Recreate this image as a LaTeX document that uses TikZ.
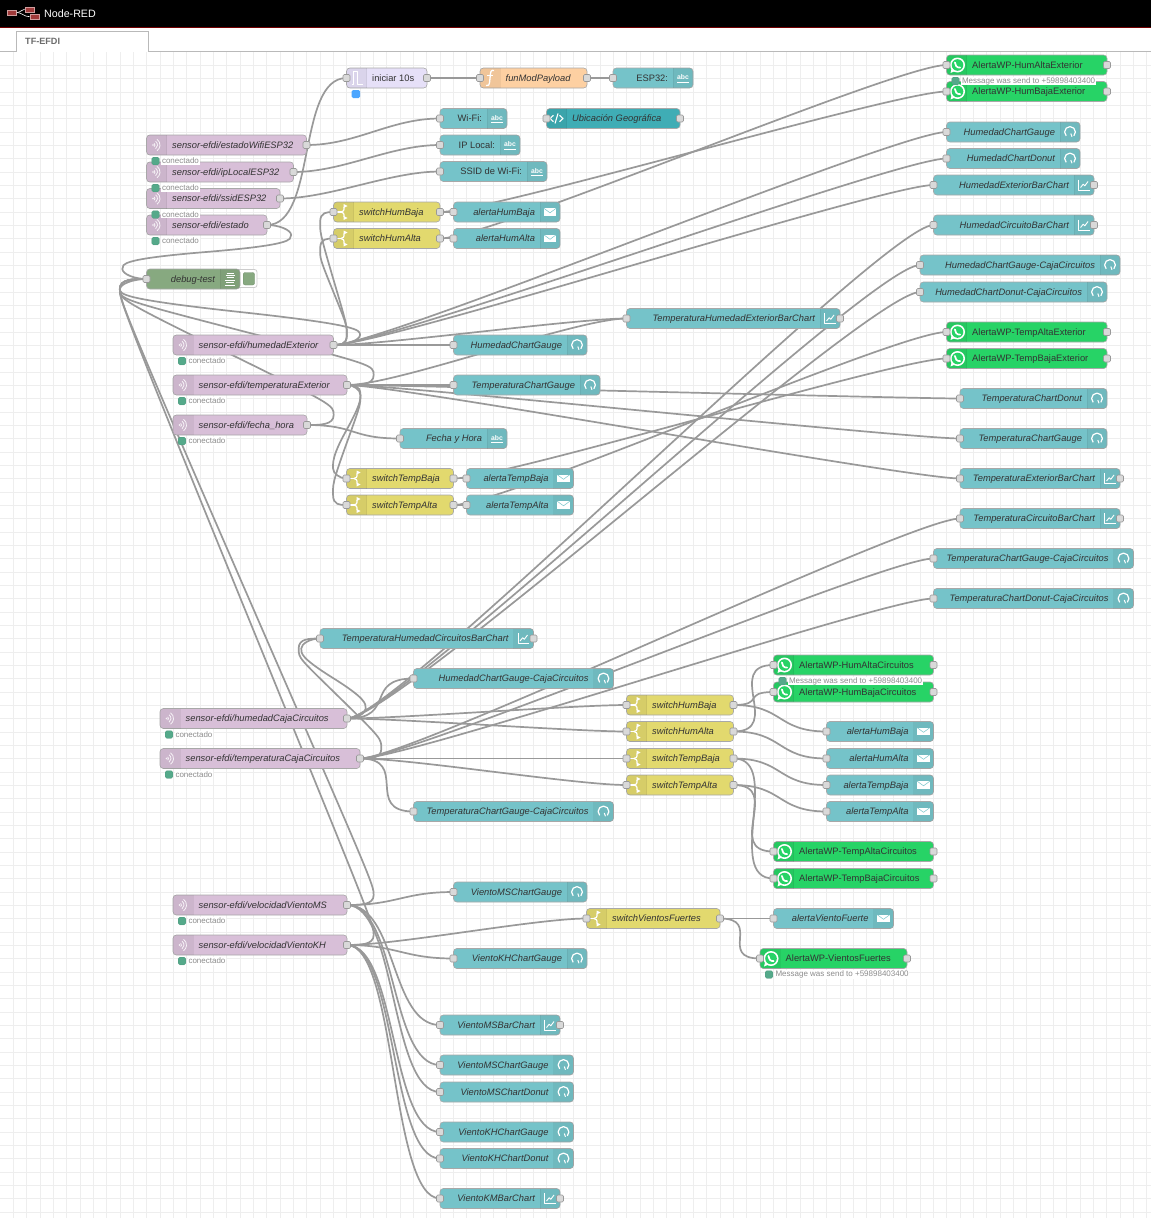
\documentclass[tikz,border=0pt]{standalone}
\usepackage{fontspec}
\setmainfont{Liberation Sans}
\usetikzlibrary{calc}
\definecolor{cteal}{HTML}{75C3C9}
\definecolor{ctealtext}{HTML}{333333}
\definecolor{clav}{HTML}{E6E0F8}
\definecolor{cfun}{HTML}{FDD0A2}
\definecolor{csens}{HTML}{D8BFD8}
\definecolor{cswi}{HTML}{E2D96E}
\definecolor{cdbg}{HTML}{87A980}
\definecolor{ctpl}{HTML}{3FADB5}
\definecolor{cwa}{HTML}{27D366}
\definecolor{cwire}{HTML}{999999}
\definecolor{cborder}{HTML}{A8A8A8}
\definecolor{cport}{HTML}{D9D9D9}
\definecolor{cgrid}{HTML}{EEEEEE}
\definecolor{cstat}{HTML}{55A98A}
\definecolor{clogo}{HTML}{A03B3B}
\newcommand\nf{\fontsize{9.33}{11}\selectfont}
\pgfdeclarelayer{grid}\pgfdeclarelayer{wires}\pgfdeclarelayer{top}
\pgfsetlayers{grid,wires,main,top}
\tikzset{
 fnode/.style={draw=cborder,line width=.6pt,rounded corners=3.3pt,inner xsep=25pt,inner ysep=0pt,outer sep=0pt,
   minimum height=20pt,text height=7.8pt,text depth=1pt,text=ctealtext,font=\nf\itshape},
 upr/.style={font=\nf\upshape},
 nteal/.style={fill=cteal},nlav/.style={fill=clav,upr},nfun/.style={fill=cfun},nsens/.style={fill=csens},
 nswi/.style={fill=cswi},ndbg/.style={fill=cdbg},ntpl/.style={fill=ctpl},nwa/.style={fill=cwa,upr},
 port/.style={draw=cwire,fill=cport,line width=.6pt,rounded corners=1.3pt,minimum size=7pt,inner sep=0pt,outer sep=0pt},
 wire/.style={draw=cwire,line width=1.7pt},
 band/.style={fill=black,fill opacity=.05},
 bandline/.style={draw=black,draw opacity=.05,line width=.6pt},
 ic/.style={draw=white,line width=1.1pt,line join=round},
 stdot/.style={fill=cstat,draw=cstat!80!black,draw opacity=.4,line width=.4pt,rounded corners=1.5pt},
 sttxt/.style={fill=white,text=gray!90,inner xsep=.7pt,inner ysep=.6pt,outer sep=0pt,anchor=west,font=\fontsize{8}{9}\selectfont},
 logobox/.style={fill=clogo,draw=clogo!50!white,line width=.4pt,minimum width=9.3pt,minimum height=5pt,inner sep=0pt},
}
% icons, origin at the centre of the icon band
\newcommand\icoenv{\fill[white] (-6.3,-3.8) rectangle (6.3,3.8);\draw[cteal,line width=.5pt] (-6.3,-3.8)--(0,.8)--(6.3,-3.8);}
\newcommand\icogauge{\draw[ic,line width=1.2pt] (135:5.4) arc (135:405:5.4);\draw[ic,line width=1pt] (.8,1.5)--(2,4.8);}
\newcommand\icochart{\draw[ic,line width=.8pt] (-5.5,-5.5)--(-5.5,5.2)--(5.5,5.2);\draw[ic,line width=.9pt] (-3.5,2.5)--(-.8,-.8)--(.8,.8)--(4,-3.5);}
\newcommand\icoabc{\node[white,font=\bfseries\fontsize{6.8}{7}\selectfont,inner sep=0pt] (ic) at (0,-.8) {abc};\draw[ic,line width=.9pt] (-6,4)--(6,4);}
\newcommand\icosw{\draw[ic,line width=1.2pt] (-6.5,0)--(-2.5,0);
 \draw[ic,line width=1.2pt] (-2.5,0) .. controls (0,0) and (.6,-1.5) .. (.6,-5);
 \draw[ic,line width=1.2pt] (-2.5,0) .. controls (0,0) and (.6,1.5) .. (.6,5);
 \fill[white] (.2,-8)--(4,-6)--(.2,-4)--cycle;\fill[white] (.2,8)--(4,6)--(.2,4)--cycle;}
\newcommand\icosens{\fill[white,opacity=.85] (-3.5,0) circle (.9);
 \foreach \r in {2,4.5,7}{\draw[white,line width=.8pt,opacity=.85] ($(-3.5,0)+(-55:\r)$) arc (-55:55:\r);}}
\newcommand\icoinj{\draw[ic] (-5,6.5)--(-3.3,6.5)--(-3.3,-6.5)--(1,-6.5)--(1,6.5)--(6,6.5);}
\newcommand\icofun{\draw[ic,line width=1.3pt] (4,-7.5) .. controls (1,-8.5) and (.7,-6) .. (.3,-3) -- (-.3,3.5) .. controls (-.6,7) and (-2,8.5) .. (-4,7.5);\draw[ic,line width=1.2pt] (-2.7,-2.5)--(3.2,-2.5);}
\newcommand\icodbg{\foreach \yy/\w in {-6/3.5,-3.6/4.5,-1.2/3.5,1.2/5,3.6/4,6/5}{\draw[white,line width=.9pt] (-\w,\yy)--(\w,\yy);}}
\newcommand\icotpl{\draw[ic] (-3,-3.2)--(-6.5,0)--(-3,3.2);\draw[ic] (3,-3.2)--(6.5,0)--(3,3.2);\draw[ic] (1.5,-5)--(-1.5,5);}
\newcommand\icowa{\fill[white] (1,0) circle (7.5);\fill[white] (-6,8)--(-4.6,2.5)--(-1.5,6)--cycle;\fill[cwa] (1,0) circle (5.8);
 \draw[white,line width=1.7pt,line cap=round] (-1.6,-2.6) .. controls (-2,.2) and (.6,3) .. (3.6,2.6);}
% function node: name x1 x2 yc style side icon text ports
\newcommand\fn[9]{%
 \expandafter\gdef\csname xl@#1\endcsname{#2}\expandafter\gdef\csname xr@#1\endcsname{#3}\expandafter\gdef\csname yc@#1\endcsname{#4}%
 \pgfmathsetmacro\Wc{(#2+#3)/2}\pgfmathsetmacro\Ww{#3-#2}\pgfmathsetmacro\Wix{\if#6L#2+10\else#3-10\fi}%
 \pgfmathsetmacro\Wbl{\if#6L#2\else#3-20\fi}\pgfmathsetmacro\Wbr{\Wbl+20}\pgfmathsetmacro\Wdiv{\if#6L\Wbr\else\Wbl\fi}%
 \node[fnode,#5,minimum width=\Ww pt] (#1) at (\Wc,#4) {\hbox to \dimexpr\Ww pt-50pt\relax{\if#6L\kern.7pt#8\hss\else\hss#8\fi}};
 \begin{scope}\clip[rounded corners=3.3pt] (#2,#4-10) rectangle (#3,#4+10);\fill[band] (\Wbl,#4-10) rectangle (\Wbr,#4+10);\end{scope}
 \draw[bandline] (\Wdiv,#4-10)--(\Wdiv,#4+10);
 \begin{scope}[shift={(\Wix,#4)},name prefix=#1-]\csname ico#7\endcsname\end{scope}
 \begin{pgfonlayer}{top}
 \if#9i\node[port] (#1-i) at (#1.west) {};\fi
 \if#9o\node[port] (#1-o) at (#1.east) {};\fi
 \if#9b\node[port] (#1-i) at (#1.west) {};\node[port] (#1-o) at (#1.east) {};\fi
 \end{pgfonlayer}%
}
\newcommand\st[2]{%
 \pgfmathsetmacro\Wsx{\csname xl@#1\endcsname}\pgfmathsetmacro\Wsy{\csname yc@#1\endcsname+16}%
 \begin{pgfonlayer}{top}
 \fill[stdot] (\Wsx+5.2,\Wsy-3.8) rectangle (\Wsx+12.8,\Wsy+3.8);
 \node[sttxt] (#1-st) at (\Wsx+14.8,\Wsy) {#2};
 \end{pgfonlayer}%
}
% Node-RED's link path
\newcommand\wire[2]{%
 \pgfmathsetmacro\WOx{\csname xr@#1\endcsname}\pgfmathsetmacro\WOy{\csname yc@#1\endcsname}%
 \pgfmathsetmacro\WDx{\csname xl@#2\endcsname}\pgfmathsetmacro\WDy{\csname yc@#2\endcsname}%
 \pgfmathsetmacro\wdx{\WDx-\WOx}\pgfmathsetmacro\wdy{\WDy-\WOy}%
 \pgfmathsetmacro\wdel{veclen(\wdx,\wdy)}%
 \ifdim\wdx pt>0pt
  \pgfmathsetmacro\wk{\wdel<66.667 ? \wdel*.75 : 50}%
  \draw[wire] (#1.east) .. controls ([xshift=\wk pt]#1.east) and ([xshift=-\wk pt]#2.west) .. (#2.west);
 \else
  \pgfmathsetmacro\ws{66.667*(0.4-0.2*max(0,(66.667-min(abs(\wdx),abs(\wdy)))/66.667))}%
  \pgfmathsetmacro\wmx{floor(\WDx-\wdx/2)}%
  \pgfmathsetmacro\wmy{floor(\WDy-\wdy/2)}%
  \pgfmathsetmacro\wya{(\WDy+\wmy)/2}%
  \pgfmathsetmacro\wtx{\WOx+\ws}%
  \pgfmathsetmacro\wty{\wdy>0 ? min(\wya-\wdy/2,\WOy+10) : max(\wya-\wdy/2,\WOy-10)}%
  \pgfmathsetmacro\wbx{\WDx-\ws}%
  \pgfmathsetmacro\wby{\wdy>0 ? max(\wya,\WDy-10) : min(\wya,\WDy+10)}%
  \pgfmathsetmacro\wscy{\wdy>0 ? 1 : -1}%
  \pgfmathsetmacro\wca{\wdy>0 ? max(\WOy,\wty-10) : min(\WOy,\wty+10)}%
  \pgfmathsetmacro\wcb{\wdy>0 ? min(\wmy,\wty+10) : max(\wmy,\wty-10)}%
  \pgfmathsetmacro\wcc{\wdy>0 ? max(\wmy,\wby-10) : min(\wmy,\wby+10)}%
  \pgfmathtruncatemacro\wflag{(abs(\wcb-\wty-\wscy*10)<.01) && (abs(\wdy)<100) ? 1 : 0}%
  \ifnum\wflag=1
   \pgfmathsetmacro\wca{\wty-\wscy*5}\pgfmathsetmacro\wcc{\wby-\wscy*5}%
  \fi
  \draw[wire] (#1.east) .. controls ({(\WOx+\wtx)/2},\WOy) and (\wtx,\wca) .. (\wtx,\wty)
   .. controls (\wtx,{2*\wty-\wca}) and (\wtx,\wcb) .. (\wmx,\wmy)
   .. controls ({2*\wmx-\wtx},{2*\wmy-\wcb}) and (\wbx,\wcc) .. (\wbx,\wby)
   .. controls (\wbx,{2*\wby-\wcc}) and ({(\WDx+\wbx)/2},\WDy) .. (#2.west);
 \fi
}
\newcommand\wires[2]{\foreach \t in {#2}{\wire{#1}{\t}}}
\begin{document}
\begin{tikzpicture}[x=1pt,y=-1pt]
\useasboundingbox (0,0) rectangle (1151,1218);
\begin{pgfonlayer}{grid}
\fill[white] (0,0) rectangle (1151,1218);
\foreach \k in {1,...,86}{\draw[cgrid,line width=.8pt] ({\k*13.333},52)--({\k*13.333},1218);}
\foreach \k in {1,...,87}{\draw[cgrid,line width=.8pt] (0,{52+\k*13.333})--(1151,{52+\k*13.333});}
\fill[black] (0,0) rectangle (1151,26.5);
\fill[red!45!black] (0,26.5) rectangle (1151,27.6);
\fill[white] (0,27.6) rectangle (1151,51);
\draw[gray!55,line width=.8pt] (0,51.4)--(16,51.4)--(16,31)--(148.5,31)--(148.5,51.4)--(1151,51.4);
\end{pgfonlayer}
% header
\node[logobox] (logoA) at (12,12.5) {};
\node[logobox] (logoB) at (29.5,9.2) {};
\node[logobox] (logoC) at (34.5,16.7) {};
\draw[white,line width=.6pt] (logoA.east) .. controls +(4,0) and +(-3,0) .. (logoB.west);
\draw[white,line width=.6pt] (logoA.east) .. controls +(5,0) and +(-6,0) .. (logoC.west);
\node[white,anchor=west,inner sep=0pt,font=\fontsize{10.67}{12}\selectfont] (title) at (44,13.3) {Node-RED};
\node[text=gray!85!black,anchor=west,inner sep=0pt,font=\bfseries\fontsize{9.1}{11}\selectfont] (tab) at (25,41) {TF-EFDI};
% top group
\fn{inj}{346.5}{427}{78}{nlav}{L}{inj}{iniciar 10s}{b}
\fn{fun}{480}{587}{78}{nfun}{L}{fun}{funModPayload}{b}
\fn{esp}{613}{693}{78}{nteal,upr}{R}{abc}{ESP32:}{i}
\fn{wifi}{440}{507}{118.5}{nteal,upr}{R}{abc}{Wi-Fi:}{i}
\fn{ipl}{440}{520}{145}{nteal,upr}{R}{abc}{IP Local:}{i}
\fn{ssid}{440}{547}{171.5}{nteal,upr}{R}{abc}{SSID de Wi-Fi:}{i}
\fn{ubi}{546.5}{680}{118.5}{ntpl}{L}{tpl}{Ubicación Geográfica}{b}
\fn{swHBx}{333.5}{440}{212}{nswi}{L}{sw}{switchHumBaja}{b}
\fn{swHAx}{333.5}{440}{238.5}{nswi}{L}{sw}{switchHumAlta}{b}
\fn{alHBx}{453.5}{560}{212}{nteal}{R}{env}{alertaHumBaja}{i}
\fn{alHAx}{453.5}{560}{238.5}{nteal}{R}{env}{alertaHumAlta}{i}
\fn{sWifi}{146.5}{306.5}{145}{nsens}{L}{sens}{sensor-efdi/estadoWifiESP32}{o}
\fn{sIp}{146.5}{293.5}{172}{nsens}{L}{sens}{sensor-efdi/ipLocalESP32}{o}
\fn{sSsid}{146.5}{280}{198.5}{nsens}{L}{sens}{sensor-efdi/ssidESP32}{o}
\fn{sEst}{146.5}{267}{225}{nsens}{L}{sens}{sensor-efdi/estado}{o}
% debug node and its button
\fill[white,draw=gray!40,line width=.8pt,rounded corners=2.5pt] (232,269.5) rectangle (257,287.5);
\fill[cdbg,draw=cdbg!85!black,line width=.4pt,rounded corners=2pt] (243.2,272.5) rectangle (254.5,285);
\fn{dbg}{146.5}{240}{279}{ndbg}{R}{dbg}{debug-test}{i}
\fn{sHumE}{173}{333.5}{345}{nsens}{L}{sens}{sensor-efdi/humedadExterior}{o}
\fn{sTemE}{173}{347}{385}{nsens}{L}{sens}{sensor-efdi/temperaturaExterior}{o}
\fn{sFec}{173}{307}{425}{nsens}{L}{sens}{sensor-efdi/fecha\_hora}{o}
\fn{gHum}{453.5}{587}{345}{nteal}{R}{gauge}{HumedadChartGauge}{i}
\fn{gTem}{453.5}{600}{385}{nteal}{R}{gauge}{TemperaturaChartGauge}{i}
\fn{barTHE}{626.5}{840}{318.5}{nteal}{R}{chart}{TemperaturaHumedadExteriorBarChart}{b}
\fn{fecha}{400}{507}{438.5}{nteal}{R}{abc}{Fecha y Hora}{i}
\fn{swTBx}{346.5}{453.5}{478.5}{nswi}{L}{sw}{switchTempBaja}{b}
\fn{swTAx}{346.5}{453.5}{505}{nswi}{L}{sw}{switchTempAlta}{b}
\fn{alTBx}{466.5}{573.5}{478.5}{nteal}{R}{env}{alertaTempBaja}{i}
\fn{alTAx}{466.5}{573.5}{505}{nteal}{R}{env}{alertaTempAlta}{i}
% right column
\fn{wpHAE}{946.5}{1107}{65}{nwa}{L}{wa}{AlertaWP-HumAltaExterior}{b}
\fn{wpHBE}{946.5}{1107}{91.5}{nwa}{L}{wa}{AlertaWP-HumBajaExterior}{b}
\fn{rGH}{946.5}{1080}{132}{nteal}{R}{gauge}{HumedadChartGauge}{i}
\fn{rDH}{946.5}{1080}{158.5}{nteal}{R}{gauge}{HumedadChartDonut}{i}
\fn{rBHE}{933.5}{1094}{185}{nteal}{R}{chart}{HumedadExteriorBarChart}{b}
\fn{rBHC}{933.5}{1094}{225}{nteal}{R}{chart}{HumedadCircuitoBarChart}{b}
\fn{rGHC}{920}{1120}{265}{nteal}{R}{gauge}{HumedadChartGauge-CajaCircuitos}{i}
\fn{rDHC}{920}{1107}{292}{nteal}{R}{gauge}{HumedadChartDonut-CajaCircuitos}{i}
\fn{wpTAE}{946.5}{1107}{332}{nwa}{L}{wa}{AlertaWP-TempAltaExterior}{b}
\fn{wpTBE}{946.5}{1107}{358.5}{nwa}{L}{wa}{AlertaWP-TempBajaExterior}{b}
\fn{rDT}{960}{1107}{398.5}{nteal}{R}{gauge}{TemperaturaChartDonut}{i}
\fn{rGT}{960}{1107}{438.5}{nteal}{R}{gauge}{TemperaturaChartGauge}{i}
\fn{rBTE}{960}{1120}{478.5}{nteal}{R}{chart}{TemperaturaExteriorBarChart}{b}
\fn{rBTC}{960}{1120}{518.5}{nteal}{R}{chart}{TemperaturaCircuitoBarChart}{b}
\fn{rGTC}{933.5}{1133.5}{558.5}{nteal}{R}{gauge}{TemperaturaChartGauge-CajaCircuitos}{i}
\fn{rDTC}{933.5}{1133.5}{598.5}{nteal}{R}{gauge}{TemperaturaChartDonut-CajaCircuitos}{i}
% circuits group
\fn{barTHC}{320}{533.5}{638.5}{nteal}{R}{chart}{TemperaturaHumedadCircuitosBarChart}{b}
\fn{gHC}{413.5}{613.5}{678.5}{nteal}{R}{gauge}{HumedadChartGauge-CajaCircuitos}{i}
\fn{gTC}{413.5}{613.5}{811.5}{nteal}{R}{gauge}{TemperaturaChartGauge-CajaCircuitos}{i}
\fn{sHumC}{160}{347}{718.5}{nsens}{L}{sens}{sensor-efdi/humedadCajaCircuitos}{o}
\fn{sTemC}{160}{360}{758.5}{nsens}{L}{sens}{sensor-efdi/temperaturaCajaCircuitos}{o}
\fn{swHBc}{626.5}{733.5}{705}{nswi}{L}{sw}{switchHumBaja}{b}
\fn{swHAc}{626.5}{733.5}{731.5}{nswi}{L}{sw}{switchHumAlta}{b}
\fn{swTBc}{626.5}{733.5}{758.5}{nswi}{L}{sw}{switchTempBaja}{b}
\fn{swTAc}{626.5}{733.5}{785}{nswi}{L}{sw}{switchTempAlta}{b}
\fn{wpHAC}{773.5}{933.5}{665}{nwa}{L}{wa}{AlertaWP-HumAltaCircuitos}{b}
\fn{wpHBC}{773.5}{933.5}{692}{nwa}{L}{wa}{AlertaWP-HumBajaCircuitos}{b}
\fn{alHBc}{826.5}{933.5}{731.5}{nteal}{R}{env}{alertaHumBaja}{i}
\fn{alHAc}{826.5}{933.5}{758.5}{nteal}{R}{env}{alertaHumAlta}{i}
\fn{alTBc}{826.5}{933.5}{785}{nteal}{R}{env}{alertaTempBaja}{i}
\fn{alTAc}{826.5}{933.5}{811.5}{nteal}{R}{env}{alertaTempAlta}{i}
\fn{wpTAC}{773.5}{933.5}{851.5}{nwa}{L}{wa}{AlertaWP-TempAltaCircuitos}{b}
\fn{wpTBC}{773.5}{933.5}{878.5}{nwa}{L}{wa}{AlertaWP-TempBajaCircuitos}{b}
% wind group
\fn{swVF}{586.5}{720}{918.5}{nswi}{L}{sw}{switchVientosFuertes}{b}
\fn{alVF}{773.5}{893.5}{918.5}{nteal}{R}{env}{alertaVientoFuerte}{i}
\fn{wpVF}{760}{907}{958.5}{nwa}{L}{wa}{AlertaWP-VientosFuertes}{b}
\fn{sVMS}{173}{347}{905}{nsens}{L}{sens}{sensor-efdi/velocidadVientoMS}{o}
\fn{sVKH}{173}{347}{945}{nsens}{L}{sens}{sensor-efdi/velocidadVientoKH}{o}
\fn{gVMS}{453.5}{587}{892}{nteal}{R}{gauge}{VientoMSChartGauge}{i}
\fn{gVKH}{453.5}{587}{958.5}{nteal}{R}{gauge}{VientoKHChartGauge}{i}
\fn{bVMS}{440}{560}{1025}{nteal}{R}{chart}{VientoMSBarChart}{b}
\fn{gVMSb}{440}{573.5}{1065}{nteal}{R}{gauge}{VientoMSChartGauge}{i}
\fn{dVMS}{440}{573.5}{1092}{nteal}{R}{gauge}{VientoMSChartDonut}{i}
\fn{gVKHb}{440}{573.5}{1132}{nteal}{R}{gauge}{VientoKHChartGauge}{i}
\fn{dVKH}{440}{573.5}{1158.5}{nteal}{R}{gauge}{VientoKHChartDonut}{i}
\fn{bVKM}{440}{560}{1198.5}{nteal}{R}{chart}{VientoKMBarChart}{b}
% status
\st{sWifi}{conectado}\st{sIp}{conectado}\st{sSsid}{conectado}\st{sEst}{conectado}
\st{sHumE}{conectado}\st{sTemE}{conectado}\st{sFec}{conectado}
\st{sHumC}{conectado}\st{sTemC}{conectado}\st{sVMS}{conectado}\st{sVKH}{conectado}
\st{wpHAE}{Message was send to +59898403400}
\st{wpHAC}{Message was send to +59898403400}
\st{wpVF}{Message was send to +59898403400}
\begin{pgfonlayer}{top}
\fill[fill=blue!50!cyan!70!white,rounded corners=1.5pt] (351.7,90) rectangle (360,98.2);
\end{pgfonlayer}
% wires
\begin{pgfonlayer}{wires}
\wire{sWifi}{wifi}\wire{sIp}{ipl}\wire{sSsid}{ssid}
\wires{sEst}{inj,dbg}
\wire{inj}{fun}\wire{fun}{esp}
\wires{swHBx}{alHBx,wpHBE}\wires{swHAx}{alHAx,wpHAE}
\wires{sHumE}{swHBx,swHAx,gHum,barTHE,rGH,rDH,rBHE,dbg}
\wires{sTemE}{gTem,barTHE,swTBx,swTAx,rDT,rGT,rBTE,dbg}
\wires{sFec}{fecha,dbg}
\wires{swTBx}{alTBx,wpTBE}\wires{swTAx}{alTAx,wpTAE}
\wires{sHumC}{barTHC,gHC,swHBc,swHAc,rBHC,rGHC,rDHC}
\wires{sTemC}{barTHC,gTC,swTBc,swTAc,rBTC,rGTC,rDTC}
\wires{swHBc}{wpHBC,alHBc}\wires{swHAc}{wpHAC,alHAc}
\wires{swTBc}{alTBc,wpTBC}\wires{swTAc}{alTAc,wpTAC}
\wires{swVF}{alVF,wpVF}
\wires{sVMS}{dbg,gVMS,bVMS,gVMSb,dVMS}
\wires{sVKH}{dbg,gVKH,swVF,gVKHb,dVKH,bVKM}
\end{pgfonlayer}
\end{tikzpicture}
\end{document}
